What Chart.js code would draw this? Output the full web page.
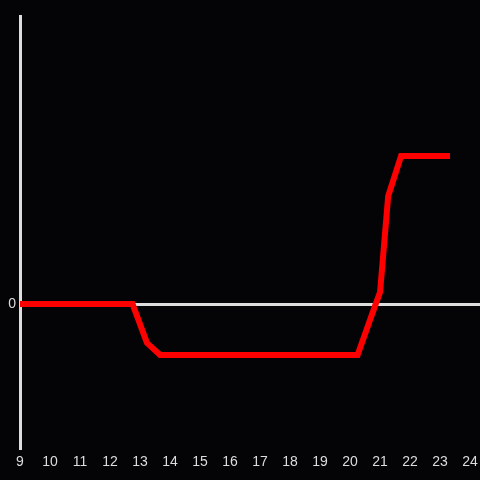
<!DOCTYPE html>
<html>
<head>
<meta charset="utf-8">
<script src="https://cdn.jsdelivr.net/npm/chart.js@4/dist/chart.umd.min.js"></script>
<style>
  html, body { margin: 0; padding: 0; background: #040306; }
  #wrap { width: 480px; height: 480px; }
</style>
</head>
<body>
<div id="wrap"><canvas id="chart"></canvas></div>
<script>
// heures (axe x) et valeurs de la courbe
const hours = [8.9, 12.75, 13.23, 13.67, 20.25, 20.75, 21.0, 21.27, 21.7, 23.33];
const values = [0, 0, -0.27, -0.354, -0.354, -0.06, 0.083, 0.75, 1.028, 1.028];
const xTicks = [9, 10, 11, 12, 13, 14, 15, 16, 17, 18, 19, 20, 21, 22, 23, 24];
const yTicks = [0];

const axisColor = '#dddddd';

const ctx = document.getElementById('chart').getContext('2d');
new Chart(ctx, {
    type: 'line',
    data: {
        datasets: [{
            data: hours.map((h, i) => ({ x: h, y: values[i] })),
            borderColor: '#ff0000',
            borderWidth: 6,
            pointRadius: 0,
            tension: 0,
            fill: false
        }]
    },
    options: {
        responsive: true,
        maintainAspectRatio: false,
        animation: false,
        layout: { padding: { top: 16, right: 0, left: 0, bottom: 0 } },
        plugins: { legend: { display: false }, tooltip: { enabled: false } },
        scales: {
            x: {
                type: 'linear',
                min: 9,
                max: 24.33,
                afterBuildTicks: (axis) => { axis.ticks = xTicks.map(v => ({ value: v })); },
                afterFit: (axis) => {
                    axis.height = 32;
                    axis.paddingLeft = 0;
                    axis.paddingRight = 0;
                },
                border: { display: false },
                grid: { display: false, drawTicks: false },
                ticks: {
                    color: axisColor,
                    font: { family: 'Liberation Sans', size: 14 },
                    padding: 6,
                    maxRotation: 0,
                    autoSkip: false
                }
            },
            y: {
                min: -1,
                max: 2,
                afterBuildTicks: (axis) => { axis.ticks = yTicks.map(v => ({ value: v })); },
                afterFit: (axis) => { axis.width = 20; },
                border: { display: true, color: axisColor, width: 3 },
                grid: { color: axisColor, lineWidth: 3, drawTicks: false },
                ticks: {
                    color: axisColor,
                    font: { family: 'Liberation Sans', size: 14 },
                    padding: 4
                }
            }
        }
    }
});
</script>
</body>
</html>
